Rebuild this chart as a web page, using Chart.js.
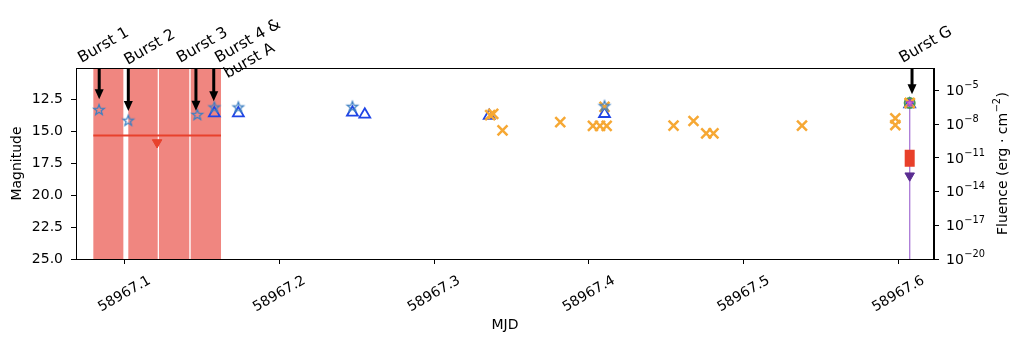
<!DOCTYPE html>
<html>
<head>
<meta charset="utf-8">
<script src="https://cdn.jsdelivr.net/npm/chart.js@4/dist/chart.umd.min.js"></script>
<style>
  body { margin: 0; background: #fff; }
  #wrap { width: 1013px; height: 338px; }
</style>
</head>
<body>
<div id="wrap"><canvas id="myChart" width="1013" height="338"></canvas></div>
<script>
"use strict";

// ---- data (MJD / magnitude / fluence) ----
const xTicks = [58967.1, 58967.2, 58967.3, 58967.4, 58967.5, 58967.6];
const magTicks = [12.5, 15.0, 17.5, 20.0, 22.5, 25.0];
const fluTicksExp = [-20, -17, -14, -11, -8, -5];

// shaded windows
const spanStart = [58967.0798, 58967.1024, 58967.1222, 58967.1427];
const spanEnd = [58967.0992, 58967.1214, 58967.1418, 58967.1623];

// stars (blue)
const starMjd = [58967.0835, 58967.1024, 58967.147, 58967.158, 58967.1735, 58967.2472, 58967.4101];
const starMag = [13.30, 14.14, 13.69, 13.10, 13.10, 13.05, 13.00];

// open triangles
const triMjd = [58967.158, 58967.1735, 58967.2472, 58967.2552, 58967.3356, 58967.4101, 58967.6073];
const triMag = [13.55, 13.55, 13.50, 13.65, 13.75, 13.60, 12.85];

// orange crosses
const crossMjd = [58967.3362, 58967.3382, 58967.3442, 58967.3815, 58967.4026, 58967.4072, 58967.4115,
  58967.4101, 58967.4547, 58967.4676, 58967.4758, 58967.4805, 58967.5377, 58967.598, 58967.598, 58967.6073];
const crossMag = [13.70, 13.60, 14.90, 14.25, 14.55, 14.55, 14.55,
  13.05, 14.53, 14.16, 15.13, 15.13, 14.53, 13.95, 14.48, 12.75];

// upper limit over the shaded windows
const limMjd = [58967.0798, 58967.1623];
const limMag = [15.3, 15.3];
const limArrowMjd = [58967.121];
const limArrowMag = [15.85];

// burst G
const gMjd = [58967.6073];
const gMag = [12.75];
const gFluBar = [5.4e-11, 1.6e-12];
const gFluLimit = [2.6e-13];
const gFluLine = [8.5e-7, 1e-20];

// annotations
const burstNames = [["Burst 1"], ["Burst 2"], ["Burst 3"], ["Burst 4 &", "burst A"], ["Burst G"]];
const arrowMjd = [58967.0836, 58967.1024, 58967.1461, 58967.1576, 58967.6088];
const arrowTipMag = [12.46, 13.38, 13.36, 12.62, 12.06];
// label placement (pixels, relative to arrow)
const labelDx = [-17.6, -0.6, -15.7, 4.7, -9.3];
const labelY = [63, 65, 63, 63, 63];

const FONT = "'DejaVu Sans', sans-serif";

function pts(xs, ys) {
  return xs.map((v, i) => ({ x: v, y: ys[i] }));
}

function starImg(r, stroke, fill, lw) {
  const c = document.createElement("canvas");
  const s = Math.ceil(2 * r + lw * 2 + 2);
  c.width = c.height = s;
  const g = c.getContext("2d");
  g.beginPath();
  for (let i = 0; i < 10; i++) {
    const rr = i % 2 ? r * 0.42 : r;
    const a = -Math.PI / 2 + (i * Math.PI) / 5;
    g.lineTo(s / 2 + rr * Math.cos(a), s / 2 + rr * Math.sin(a));
  }
  g.closePath();
  if (fill) {
    g.fillStyle = fill;
    g.fill();
  }
  g.lineWidth = lw;
  g.strokeStyle = stroke;
  g.stroke();
  return c;
}

const blueStar = starImg(5.5, "#3d7fc2", null, 1.3);
const purpleStar = starImg(4, "#a03cc8", "#c86ee0", 1);

// text with a raised exponent, left aligned at (0,0) in current transform
function textWithSup(ctx, base, sp, size) {
  ctx.font = size + "px " + FONT;
  ctx.fillText(base, 0, 0);
  const w = ctx.measureText(base).width;
  ctx.font = (size * 0.7).toFixed(1) + "px " + FONT;
  ctx.fillText(sp, w + 0.5, -size * 0.42);
  return w + ctx.measureText(sp).width + 0.5;
}

const overlay = {
  id: "overlay",
  beforeDatasetsDraw(chart) {
    const { ctx, chartArea: a } = chart;
    const x = chart.scales.x;
    ctx.save();
    ctx.fillStyle = "#f08680";
    for (let i = 0; i < spanStart.length; i++) {
      const x0 = x.getPixelForValue(spanStart[i]);
      const x1 = x.getPixelForValue(spanEnd[i]);
      ctx.fillRect(x0, a.top, x1 - x0, a.bottom - a.top);
    }
    ctx.restore();
  },
  afterDraw(chart) {
    const { ctx, chartArea: a } = chart;
    const x = chart.scales.x;
    const y = chart.scales.y;
    const y2 = chart.scales.y2;
    ctx.save();

    // frame
    ctx.strokeStyle = "#000";
    ctx.lineWidth = 1;
    ctx.strokeRect(a.left + 0.5, a.top + 0.5, a.right - a.left - 1, a.bottom - a.top);

    // arrows
    ctx.fillStyle = "#000";
    ctx.strokeStyle = "#000";
    for (let i = 0; i < arrowMjd.length; i++) {
      const px = x.getPixelForValue(arrowMjd[i]);
      const tip = y.getPixelForValue(arrowTipMag[i]);
      ctx.lineWidth = 3;
      ctx.beginPath();
      ctx.moveTo(px, a.top);
      ctx.lineTo(px, tip - 9);
      ctx.stroke();
      ctx.beginPath();
      ctx.moveTo(px - 4.5, tip - 10);
      ctx.lineTo(px + 4.5, tip - 10);
      ctx.lineTo(px, tip);
      ctx.closePath();
      ctx.fill();
    }

    // burst labels
    ctx.font = "15.5px " + FONT;
    ctx.textAlign = "left";
    ctx.textBaseline = "alphabetic";
    for (let i = 0; i < burstNames.length; i++) {
      const px = x.getPixelForValue(arrowMjd[i]) + labelDx[i];
      ctx.save();
      ctx.translate(px, labelY[i]);
      ctx.rotate(-Math.PI / 6);
      burstNames[i].forEach((line, k) => ctx.fillText(line, 0, k * 18));
      ctx.restore();
    }

    // x tick labels, rotated and centred on the tick
    ctx.font = "14px " + FONT;
    ctx.textAlign = "center";
    ctx.textBaseline = "middle";
    xTicks.forEach((v) => {
      ctx.save();
      ctx.translate(x.getPixelForValue(v), 294);
      ctx.rotate(-Math.PI / 6);
      ctx.fillText(v.toFixed(1), 0, 0);
      ctx.restore();
    });

    // right axis tick labels (10^e)
    ctx.textAlign = "left";
    ctx.textBaseline = "middle";
    fluTicksExp.forEach((e) => {
      ctx.save();
      ctx.translate(946, y2.getPixelForValue(Math.pow(10, e)) + 1);
      textWithSup(ctx, "10", "\u2212" + Math.abs(e), 14);
      ctx.restore();
    });

    // axis titles
    ctx.font = "14px " + FONT;
    ctx.textAlign = "center";
    ctx.fillText("MJD", (a.left + a.right) / 2, 325);
    const midY = (a.top + a.bottom) / 2;
    ctx.save();
    ctx.translate(17, midY);
    ctx.rotate(-Math.PI / 2);
    ctx.fillText("Magnitude", 0, 0);
    ctx.restore();

    ctx.save();
    ctx.translate(1003, midY);
    ctx.rotate(-Math.PI / 2);
    ctx.textAlign = "left";
    ctx.font = "14px " + FONT;
    const base = "Fluence (erg \u00b7 cm";
    const wb = ctx.measureText(base).width;
    ctx.font = "9.8px " + FONT;
    const ws = ctx.measureText("\u22122").width;
    ctx.font = "14px " + FONT;
    const wc = ctx.measureText(")").width;
    const total = wb + ws + 1 + wc;
    ctx.translate(-total / 2, 0);
    textWithSup(ctx, base, "\u22122", 14);
    ctx.font = "14px " + FONT;
    ctx.fillText(")", wb + ws + 1, 0);
    ctx.restore();

    ctx.restore();
  },
};

const tickGrid = { display: true, drawOnChartArea: false, drawTicks: true, tickLength: 5, color: "#000", tickWidth: 1 };
const axisBorder = { display: true, color: "#000", width: 1 };

const ctx = document.getElementById("myChart");

new Chart(ctx, {
  type: "scatter",
  data: {
    datasets: [
      // burst G stack
      { data: pts(gMjd, gMag), pointStyle: purpleStar, order: 1 },
      { data: pts(gMjd, gMag), pointStyle: "crossRot", pointRadius: 7, borderColor: "#f6a834", borderWidth: 2.5, order: 2 },
      { data: pts(gMjd, gMag), pointStyle: "circle", pointRadius: 5, borderColor: "#4e9a52", backgroundColor: "rgba(0,0,0,0)", borderWidth: 2, order: 3 },
      // stars
      { data: pts(starMjd, starMag), pointStyle: blueStar, order: 4 },
      // crosses
      { data: pts(crossMjd, crossMag), pointStyle: "crossRot", pointRadius: 7, borderColor: "#f6a834", borderWidth: 2.5, order: 5 },
      // triangles
      { data: pts(triMjd, triMag), pointStyle: "triangle", pointRadius: 6.3, borderColor: "#1f44e6", backgroundColor: "rgba(0,0,0,0)", borderWidth: 1.8, order: 6 },
      // fluence of burst G
      { data: pts([gMjd[0], gMjd[0]], gFluBar), yAxisID: "y2", showLine: true, borderColor: "#e8402a", borderWidth: 10, borderCapStyle: "butt", pointRadius: 0, order: 7 },
      { data: pts(gMjd, gFluLimit), yAxisID: "y2", pointStyle: "triangle", rotation: 180, pointRadius: 5.5, backgroundColor: "#5a2d91", borderColor: "#5a2d91", borderWidth: 1, order: 8 },
      { data: pts([gMjd[0], gMjd[0]], gFluLine), yAxisID: "y2", showLine: true, borderColor: "rgba(170,120,215,0.75)", borderWidth: 1, pointRadius: 0, order: 9 },
      // optical upper limit
      { data: pts(limArrowMjd, limArrowMag), pointStyle: "triangle", rotation: 180, pointRadius: 5.5, backgroundColor: "#e8412c", borderColor: "#e8412c", borderWidth: 1, order: 10 },
      { data: pts(limMjd, limMag), showLine: true, borderColor: "#e8412c", borderWidth: 2, pointRadius: 0, order: 11 },
    ],
  },
  options: {
    responsive: false,
    devicePixelRatio: 1,
    animation: false,
    layout: { padding: { top: 68, left: 0, right: 0, bottom: 0 } },
    plugins: { legend: { display: false }, tooltip: { enabled: false } },
    scales: {
      x: {
        type: "linear",
        min: 58967.0686,
        max: 58967.623,
        grid: tickGrid,
        border: axisBorder,
        ticks: { display: false },
        afterBuildTicks: (s) => { s.ticks = xTicks.map((v) => ({ value: v })); },
        afterFit: (s) => { s.height = 79; },
      },
      y: {
        type: "linear",
        position: "left",
        reverse: true,
        min: 10,
        max: 25,
        grid: tickGrid,
        border: axisBorder,
        ticks: { color: "#000", padding: 8, font: { family: FONT, size: 14 }, callback: (v) => v.toFixed(1) },
        afterBuildTicks: (s) => { s.ticks = magTicks.map((v) => ({ value: v })); },
        afterFit: (s) => { s.width = 76; },
      },
      y2: {
        type: "logarithmic",
        position: "right",
        min: 1e-20,
        max: 1e-3,
        grid: tickGrid,
        border: axisBorder,
        ticks: { color: "rgba(0,0,0,0)", padding: 7, font: { family: FONT, size: 14 } },
        afterBuildTicks: (s) => { s.ticks = fluTicksExp.map((e) => ({ value: Math.pow(10, e) })); },
        afterFit: (s) => { s.width = 79; },
      },
    },
  },
  plugins: [overlay],
});
</script>
</body>
</html>
